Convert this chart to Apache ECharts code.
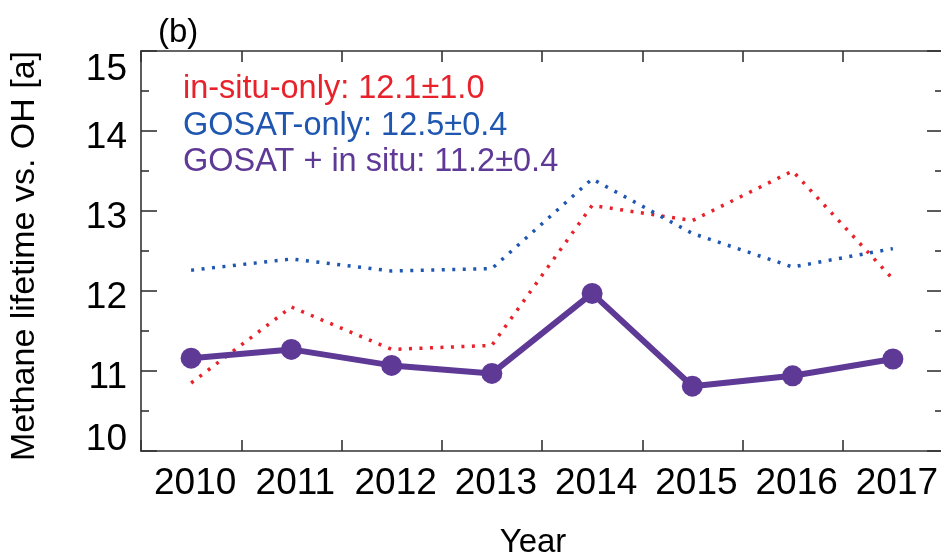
<!DOCTYPE html>
<html>
<head>
<meta charset="utf-8">
<script src="https://cdn.jsdelivr.net/npm/echarts@6/dist/echarts.min.js"></script>
<style>
  html, body { margin: 0; padding: 0; background: #fff; }
  #chart { width: 941px; height: 555px; }
</style>
</head>
<body>
<div id="chart"></div>
<script>
// Annual methane lifetime against OH, by inversion setup
const years = ['2010', '2011', '2012', '2013', '2014', '2015', '2016', '2017'];
const inSituOnly = [10.85, 11.80, 11.27, 11.32, 13.07, 12.88, 13.50, 12.15];
const gosatOnly = [12.26, 12.40, 12.25, 12.28, 13.40, 12.72, 12.30, 12.53];
const gosatInSitu = [11.16, 11.27, 11.07, 10.97, 11.97, 10.81, 10.94, 11.15];
const seriesNames = [
  'in-situ-only: 12.1\u00b11.0',
  'GOSAT-only: 12.5\u00b10.4',
  'GOSAT + in situ: 11.2\u00b10.4'
];

const RED = '#e8222b';
const BLUE = '#1f57b0';
const PURPLE = '#5f3996';
const FONT = '"Liberation Sans", Arial, Helvetica, sans-serif';
const AXIS_COLOR = '#333';

const chart = echarts.init(document.getElementById('chart'), null, { renderer: 'canvas' });

const axisLineStyle = { color: AXIS_COLOR, width: 1.6 };

// The end labels of the value axis sit inside the frame
function yLabel(v) {
  if (v === 15) return '{t|' + v + '}';
  if (v === 10) return '{b|' + v + '}';
  return '{m|' + v + '}';
}
const yRichBase = { fontSize: 37, fontFamily: FONT, color: '#000' };

chart.setOption({
  animation: false,
  backgroundColor: '#fff',
  title: {
    text: '(b)',
    left: 153,
    top: 11,
    textStyle: { fontSize: 33, fontWeight: 'normal', fontFamily: FONT, color: '#000' }
  },
  legend: {
    orient: 'vertical',
    left: 172,
    top: 68,
    padding: 5,
    itemWidth: 0,
    itemHeight: 0,
    itemGap: 3.5,
    selectedMode: false,
    textStyle: { fontSize: 32.5, lineHeight: 32, fontFamily: FONT },
    data: [
      { name: seriesNames[0], textStyle: { color: RED } },
      { name: seriesNames[1], textStyle: { color: BLUE } },
      { name: seriesNames[2], textStyle: { color: PURPLE } }
    ]
  },
  grid: {
    left: 141, top: 51, width: 802, height: 400,
    containLabel: false,
    outerBoundsMode: 'none'
  },
  xAxis: [
    {
      type: 'category',
      position: 'bottom',
      data: years,
      boundaryGap: true,
      name: 'Year',
      nameLocation: 'middle',
      nameGap: 75,
      nameTextStyle: { fontSize: 33, fontFamily: FONT, color: '#000', padding: [0, 18, 0, 0] },
      axisLine: { lineStyle: axisLineStyle },
      axisTick: { show: true, inside: true, length: 11, interval: 0, lineStyle: axisLineStyle },
      axisLabel: { fontSize: 37, fontFamily: FONT, color: '#000', margin: 14, interval: 0, padding: [0, 0, 0, 8] },
      splitLine: { show: false }
    },
    {
      type: 'category',
      position: 'top',
      data: years,
      boundaryGap: true,
      axisLine: { lineStyle: axisLineStyle },
      axisTick: { show: true, inside: true, length: 11, interval: 0, lineStyle: axisLineStyle },
      axisLabel: { show: false },
      splitLine: { show: false }
    }
  ],
  yAxis: [
    {
      type: 'value',
      position: 'left',
      min: 10,
      max: 15,
      interval: 1,
      name: 'Methane lifetime vs. OH [a]',
      nameLocation: 'middle',
      nameGap: 99,
      nameTextStyle: { fontSize: 34, fontFamily: FONT, color: '#000', padding: [0, 10, 0, 0] },
      axisLine: { show: true, lineStyle: axisLineStyle },
      axisTick: { show: true, inside: true, length: 16, lineStyle: axisLineStyle },
      minorTick: { show: true, splitNumber: 2, length: 8, lineStyle: axisLineStyle },
      axisLabel: {
        margin: 14,
        formatter: yLabel,
        fontSize: 37,
        fontFamily: FONT,
        color: '#000',
        rich: {
          t: Object.assign({ padding: [37, 0, 0, 0] }, yRichBase),
          m: Object.assign({ padding: [13, 0, 0, 0] }, yRichBase),
          b: Object.assign({ padding: [0, 0, 23, 0] }, yRichBase)
        }
      },
      splitLine: { show: false },
      minorSplitLine: { show: false }
    },
    {
      type: 'value',
      position: 'right',
      min: 10,
      max: 15,
      interval: 1,
      axisLine: { show: true, lineStyle: axisLineStyle },
      axisTick: { show: true, inside: true, length: 16, lineStyle: axisLineStyle },
      minorTick: { show: true, splitNumber: 2, length: 8, lineStyle: axisLineStyle },
      axisLabel: { show: false },
      splitLine: { show: false },
      minorSplitLine: { show: false }
    }
  ],
  series: [
    {
      name: seriesNames[0],
      type: 'line',
      data: inSituOnly,
      symbol: 'none',
      color: RED,
      lineStyle: { color: RED, width: 3.5, type: [3, 7.5], cap: 'butt' },
      z: 2
    },
    {
      name: seriesNames[1],
      type: 'line',
      data: gosatOnly,
      symbol: 'none',
      color: BLUE,
      lineStyle: { color: BLUE, width: 3.5, type: [3, 7.5], cap: 'butt' },
      z: 2
    },
    {
      name: seriesNames[2],
      type: 'line',
      data: gosatInSitu,
      symbol: 'circle',
      symbolSize: 21,
      color: PURPLE,
      itemStyle: { color: PURPLE, borderWidth: 0 },
      lineStyle: { color: PURPLE, width: 6 },
      z: 3
    }
  ]
});
</script>
</body>
</html>
